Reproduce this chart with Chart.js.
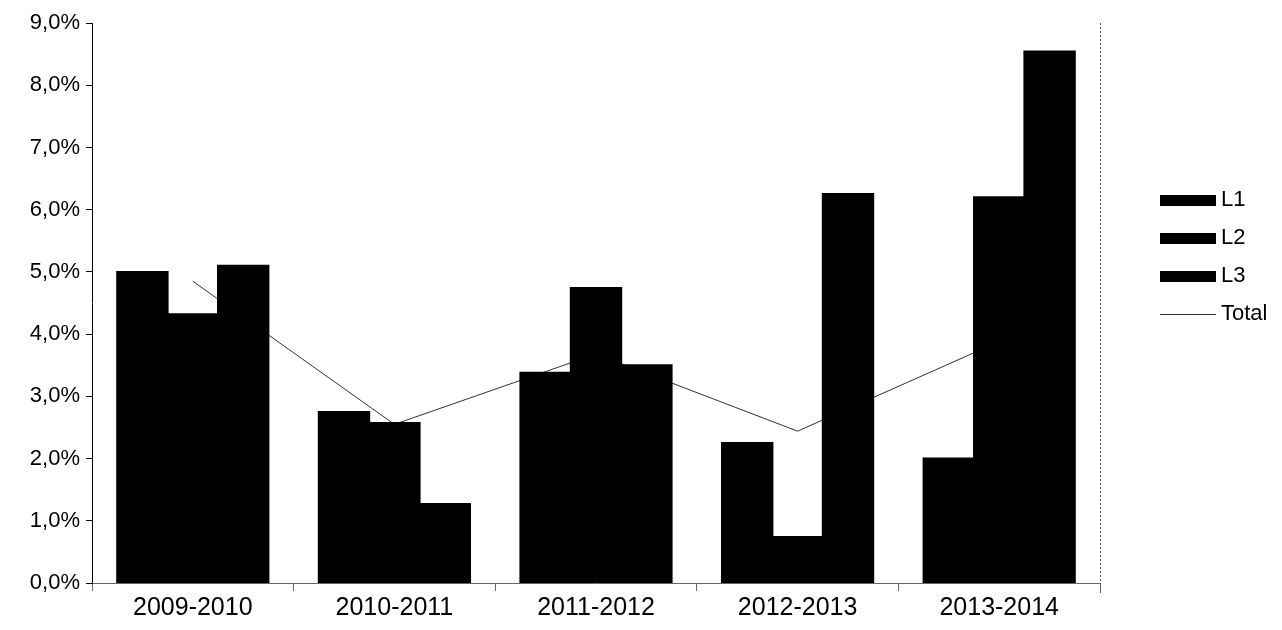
<!DOCTYPE html>
<html>
<head>
<meta charset="utf-8">
<script src="https://cdn.jsdelivr.net/npm/chart.js@4"></script>
<style>
  html, body { margin: 0; padding: 0; background: #fff; }
  #wrap { width: 1282px; height: 630px; }
</style>
</head>
<body>
<div id="wrap"><canvas id="myChart" width="1282" height="630"></canvas></div>
<script>
const years = ['2009-2010', '2010-2011', '2011-2012', '2012-2013', '2013-2014'];
const l1 = [5.0, 2.75, 3.38, 2.25, 2.0];
const l2 = [4.32, 2.57, 4.74, 0.74, 6.2];
const l3 = [5.1, 1.27, 3.5, 6.25, 8.54];
const total = [4.85, 2.55, 3.68, 2.44, 3.88];
const yTicks = [0, 1, 2, 3, 4, 5, 6, 7, 8, 9];

function pct(v) {
  return v.toFixed(1).replace('.', ',') + '%';
}

// legend drawn by hand so it sits where the original one does
const sideLegend = {
  id: 'sideLegend',
  afterDraw(chart) {
    const ctx = chart.ctx;
    const area = chart.chartArea;
    ctx.save();
    // dotted right frame
    ctx.strokeStyle = '#555';
    ctx.lineWidth = 1;
    ctx.setLineDash([2, 2]);
    ctx.beginPath();
    ctx.moveTo(area.right + 0.5, area.top);
    ctx.lineTo(area.right + 0.5, area.bottom + 10);
    ctx.stroke();
    ctx.setLineDash([]);

    ctx.font = '22px "Liberation Sans", Arial, sans-serif';
    ctx.textBaseline = 'middle';
    ctx.fillStyle = '#000';
    chart.data.datasets.forEach((ds, i) => {
      const y = 200 + i * 38;
      if (ds.type === 'line') {
        ctx.strokeStyle = '#333';
        ctx.beginPath();
        ctx.moveTo(1160, y + 0.5);
        ctx.lineTo(1216, y + 0.5);
        ctx.stroke();
      } else {
        ctx.fillRect(1160, y - 5, 56, 11);
      }
      ctx.fillStyle = '#000';
      ctx.fillText(ds.label, 1221, y);
    });
    ctx.restore();
  }
};

const data = {
  labels: years,
  datasets: [
    { label: 'L1', data: l1, backgroundColor: '#000', order: 1 },
    { label: 'L2', data: l2, backgroundColor: '#000', order: 1 },
    { label: 'L3', data: l3, backgroundColor: '#000', order: 1 },
    {
      label: 'Total',
      type: 'line',
      data: total,
      borderColor: '#333',
      borderWidth: 1,
      pointRadius: 0,
      tension: 0,
      order: 2
    }
  ]
};

const config = {
  type: 'bar',
  data: data,
  options: {
    responsive: false,
    animation: false,
    layout: { padding: { top: 23, right: 182, left: 0, bottom: 0 } },
    datasets: {
      bar: { categoryPercentage: 0.75, barPercentage: 1.0, inflateAmount: 1 }
    },
    plugins: {
      legend: { display: false },
      tooltip: { enabled: false }
    },
    scales: {
      x: {
        grid: {
          offset: true,
          drawOnChartArea: false,
          tickLength: 8,
          color: '#666'
        },
        border: { color: '#666', dash: [2, 3] },
        ticks: {
          color: '#000',
          padding: 2,
          font: { family: '"Liberation Sans", Arial, sans-serif', size: 25 }
        },
        afterFit(scale) { scale.height = 47; }
      },
      y: {
        min: 0,
        max: 9,
        afterBuildTicks(scale) {
          scale.ticks = yTicks.map(v => ({ value: v }));
        },
        grid: {
          drawOnChartArea: false,
          tickLength: 6,
          color: '#000'
        },
        border: { color: '#000', width: 1 },
        ticks: {
          color: '#000',
          padding: 6,
          callback: v => pct(v),
          font: { family: '"Liberation Sans", Arial, sans-serif', size: 22 }
        },
        afterFit(scale) { scale.width = 92; }
      }
    }
  },
  plugins: [sideLegend]
};

const myChart = new Chart(document.getElementById('myChart'), config);
</script>
</body>
</html>
